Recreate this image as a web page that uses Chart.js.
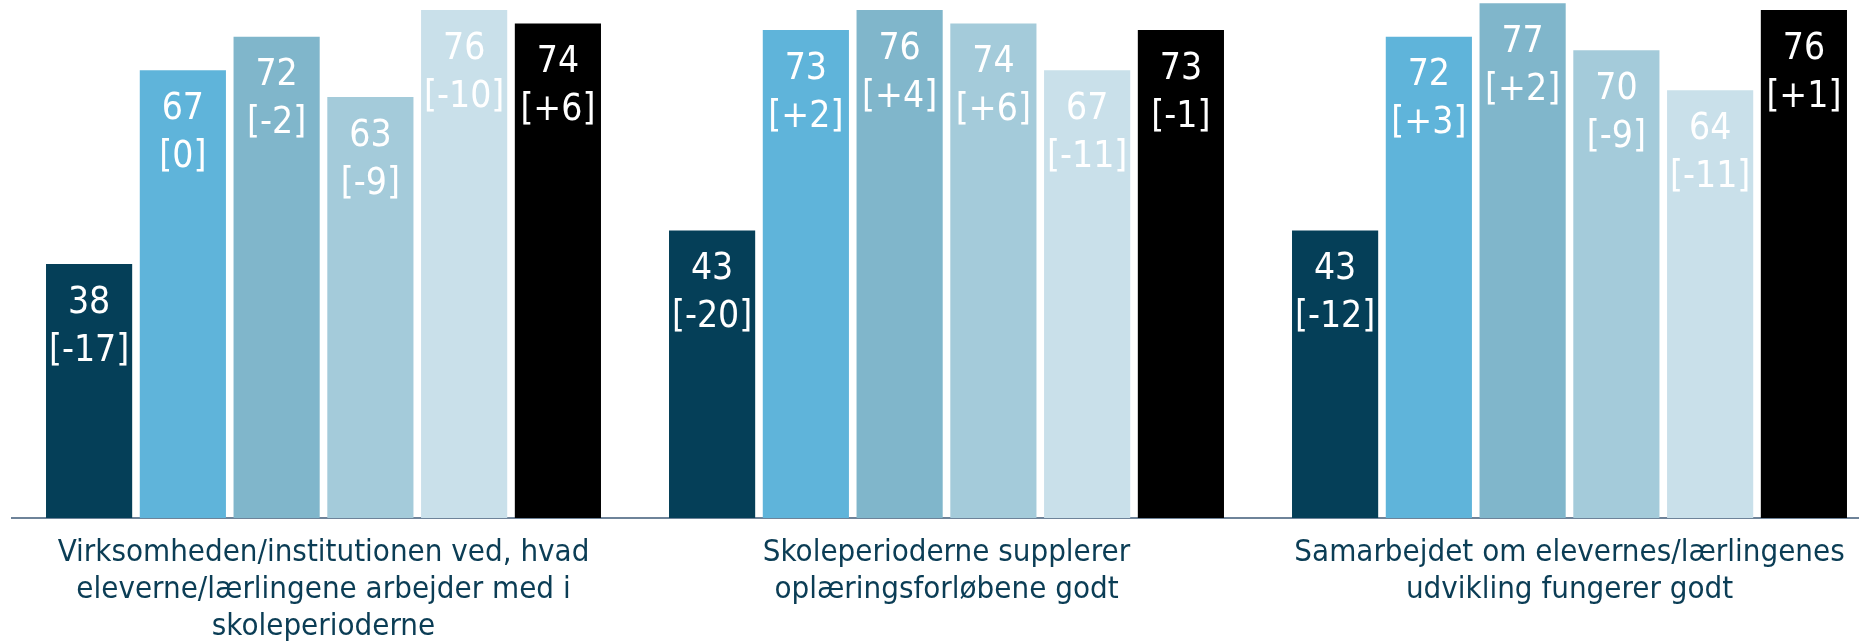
<!DOCTYPE html>
<html>
<head>
<meta charset="utf-8">
<script src="https://cdn.jsdelivr.net/npm/chart.js@4"></script>
<style>
  html, body { margin: 0; padding: 0; background: #fff; overflow: hidden; }
  #wrap { width: 1881px; height: 643px; }
</style>
</head>
<body>
<div id="wrap"><canvas id="chart" width="1881" height="643"></canvas></div>
<script>
    const categories = [
      ["Virksomheden/institutionen ved, hvad", "eleverne/lærlingene arbejder med i", "skoleperioderne"],
      ["Skoleperioderne supplerer", "oplæringsforløbene godt"],
      ["Samarbejdet om elevernes/lærlingenes", "udvikling fungerer godt"]
    ];

    // six groups of respondents, value and change in brackets
    const series1 = [38, 43, 43];
    const series2 = [67, 73, 72];
    const series3 = [72, 76, 77];
    const series4 = [63, 74, 70];
    const series5 = [76, 67, 64];
    const series6 = [74, 73, 76];

    const change1 = ["-17", "-20", "-12"];
    const change2 = ["0", "+2", "+3"];
    const change3 = ["-2", "+4", "+2"];
    const change4 = ["-9", "+6", "-9"];
    const change5 = ["-10", "-11", "-11"];
    const change6 = ["+6", "-1", "+1"];

    const colors = ["#053f58", "#5fb4da", "#80b6cb", "#a4cbda", "#c9e0ea", "#000000"];
    const FONT = '"DejaVu Sans Condensed", "DejaVu Sans", Tahoma, sans-serif';

    const values = [series1, series2, series3, series4, series5, series6];
    const changes = [change1, change2, change3, change4, change5, change6];

    const labelPlugin = {
      id: 'barLabels',
      afterDatasetsDraw(chart) {
        const ctx = chart.ctx;
        ctx.save();
        ctx.fillStyle = '#ffffff';
        ctx.textAlign = 'center';
        ctx.textBaseline = 'middle';
        ctx.font = '37px ' + FONT;
        chart.data.datasets.forEach((ds, i) => {
          const meta = chart.getDatasetMeta(i);
          meta.data.forEach((bar, j) => {
            ctx.fillText(String(ds.data[j]), bar.x, bar.y + 39);
            ctx.fillText('[' + changes[i][j] + ']', bar.x, bar.y + 87);
          });
        });
        ctx.restore();
      }
    };

    new Chart(document.getElementById('chart'), {
      type: 'bar',
      data: {
        labels: categories,
        datasets: values.map((v, i) => ({
          data: v,
          backgroundColor: colors[i],
          borderWidth: 0,
          categoryPercentage: 0.903,
          barPercentage: 0.919
        }))
      },
      options: {
        responsive: false,
        animation: false,
        devicePixelRatio: 1,
        layout: { padding: { left: 12, right: 0, top: 0, bottom: 0 } },
        plugins: { legend: { display: false }, tooltip: { enabled: false } },
        scales: {
          x: {
            grid: { display: false, drawTicks: false },
            border: { display: true, color: '#6e8399', width: 2 },
            afterFit(scale) { scale.height = 125; },
            ticks: {
              color: '#0b3d55',
              maxRotation: 0,
              autoSkip: false,
              padding: 16,
              font: { family: FONT, size: 31, lineHeight: 37 / 31 }
            }
          },
          y: {
            display: false,
            min: 0,
            max: 77.5
          }
        }
      },
      plugins: [labelPlugin]
    });
</script>
</body>
</html>
